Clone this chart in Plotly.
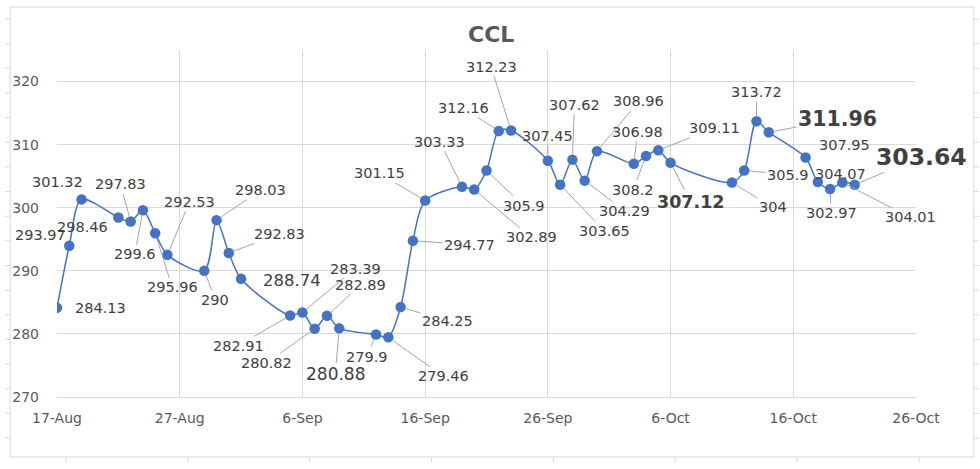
import plotly.graph_objects as go

# ---------------- data ----------------
dates = ["2022-08-17", "2022-08-18", "2022-08-19", "2022-08-22", "2022-08-23", "2022-08-24",
         "2022-08-25", "2022-08-26", "2022-08-29", "2022-08-30", "2022-08-31", "2022-09-01",
         "2022-09-05", "2022-09-06", "2022-09-07", "2022-09-08", "2022-09-09", "2022-09-12",
         "2022-09-13", "2022-09-14", "2022-09-15", "2022-09-16", "2022-09-19", "2022-09-20",
         "2022-09-21", "2022-09-22", "2022-09-23", "2022-09-26", "2022-09-27", "2022-09-28",
         "2022-09-29", "2022-09-30", "2022-10-03", "2022-10-04", "2022-10-05", "2022-10-06",
         "2022-10-11", "2022-10-12", "2022-10-13", "2022-10-14", "2022-10-17", "2022-10-18",
         "2022-10-19", "2022-10-20", "2022-10-21"]
ccl = [284.13, 293.97, 301.32, 298.46, 297.83, 299.6,
       295.96, 292.53, 290, 298.03, 292.83, 288.74,
       282.91, 283.39, 280.82, 282.89, 280.88, 279.9,
       279.46, 284.25, 294.77, 301.15, 303.33, 302.89,
       305.9, 312.16, 312.23, 307.45, 303.65, 307.62,
       304.29, 308.96, 306.98, 308.2, 309.11, 307.12,
       304, 305.9, 313.72, 311.96, 307.95, 304.07,
       302.97, 304.01, 303.64]
y_ticks = [270, 280, 290, 300, 310, 320]
title = "CCL"

# ---------------- label layout (pixel offsets, leader flag, size, bold) ----------------
S = 14.5
label_layout = [
    (43, 0, False, S, False), (-29, -11, False, S, False), (-24, -17, False, S, False),
    (-36, 10, False, S, False), (-10, -37, True, S, False), (-8, 44, True, S, False),
    (17, 54, True, S, False), (22, -53, True, S, False), (11, 29, True, S, False),
    (44, -30, True, S, False), (51, -19, True, S, False), (51, 2, False, 16.5, False),
    (-52, 30, True, S, False), (53, -44, True, S, False), (-48, 34, True, S, False),
    (34, -31, True, S, False), (-4, 46, True, 17, False), (-9, 22, True, S, False),
    (55, 39, True, S, False), (47, 14, True, S, False), (57, 4, True, S, False),
    (-46, -27, True, S, False), (-22, -45, True, S, False), (57, 48, True, S, False),
    (37, 35, True, S, False), (-35, -23, True, S, False), (-20, -64, True, S, False),
    (0, -25, True, S, False), (44, 46, True, S, False), (2, -55, True, S, False),
    (40, 30, True, S, False), (42, -50, True, S, False), (4, -32, True, S, False),
    (-13, 34, True, S, False), (56, -22, True, S, False), (20, 39, True, 17.5, True),
    (41, 25, True, S, False), (44, 4, True, S, False), (0, -29, True, S, False),
    (69, -13, True, 20.5, True), (39, -13, False, S, False), (23, -8, False, S, False),
    (1, 24, True, S, False), (68, 35, True, S, False), (67, -28, True, 23.5, True),
]

FONT = "DejaVu Sans"
LINE_BLUE = "#4472C4"
GRID = "#d9d9d9"

L, R, T, B = 54, 916, 50, 397
W, H = R - L, B - T


def px(x):
    return (x - L) / W


def py(y):
    return (B - y) / H


fig = go.Figure()
fig.add_trace(go.Scatter(
    x=dates, y=ccl, mode="lines+markers",
    line=dict(color=LINE_BLUE, width=1.5, shape="spline", smoothing=0.8),
    marker=dict(color=LINE_BLUE, size=10.5),
    showlegend=False, hoverinfo="x+y",
))

annotations = []
for d, v, (dx, dy, leader, size, bold) in zip(dates, ccl, label_layout):
    txt = f"{v:g}"
    if bold:
        txt = f"<b>{txt}</b>"
    font = dict(family=FONT, size=size, color="#404040")
    if leader:
        annotations.append(dict(x=d, y=v, xref="x", yref="y", text=txt, font=font,
                                showarrow=True, ax=dx, ay=dy, axref="pixel", ayref="pixel",
                                arrowhead=0, arrowwidth=1, arrowcolor="#a6a6a6",
                                standoff=5, borderpad=1))
    else:
        annotations.append(dict(x=d, y=v, xref="x", yref="y", text=txt, font=font,
                                showarrow=False, xshift=dx, yshift=-dy))

annotations.append(dict(text=f"<b>{title}</b>", x=px(490), y=py(35),
                        xref="paper", yref="paper", xanchor="center", yanchor="middle",
                        showarrow=False, font=dict(family=FONT, size=22, color="#595959")))

# ---------------- outer frame decoration ----------------
shapes = [dict(type="rect", xref="paper", yref="paper", x0=px(7), x1=px(974), y0=py(457), y1=py(7),
               line=dict(color=GRID, width=1), layer="below")]
for k in range(18):
    yy = 19 + 24.65 * k
    shapes.append(dict(type="line", xref="paper", yref="paper", x0=px(2), x1=px(7), y0=py(yy), y1=py(yy),
                       line=dict(color=GRID, width=1)))
    shapes.append(dict(type="line", xref="paper", yref="paper", x0=px(974), x1=px(979), y0=py(yy), y1=py(yy),
                       line=dict(color=GRID, width=1)))
for k in range(8):
    xx = 63 + 122.3 * k
    shapes.append(dict(type="line", xref="paper", yref="paper", x0=px(xx), x1=px(xx), y0=py(457), y1=py(462),
                       line=dict(color=GRID, width=1)))

fig.update_layout(
    width=980, height=469,
    margin=dict(l=L, r=980 - R, t=T, b=469 - B, pad=0),
    paper_bgcolor="white", plot_bgcolor="white",
    font=dict(family=FONT, color="#595959", size=14),
    annotations=annotations,
    shapes=shapes,
    xaxis=dict(
        type="date", range=["2022-08-17", "2022-10-26"],
        tickmode="linear", tick0="2022-08-17", dtick=864000000,
        tickformat="%-d-%b", showgrid=True, gridcolor=GRID, gridwidth=1,
        showline=True, linecolor=GRID, linewidth=1, ticks="",
        tickfont=dict(family=FONT, size=14, color="#595959"),
        ticklabelstandoff=8, zeroline=False,
    ),
    yaxis=dict(
        range=[270, 325], tickmode="array", tickvals=y_ticks,
        ticktext=[str(t) for t in y_ticks],
        showgrid=True, gridcolor=GRID, gridwidth=1, showline=False, ticks="",
        tickfont=dict(family=FONT, size=14, color="#595959"),
        ticklabelstandoff=17, zeroline=False,
    ),
)

fig.write_html("out.html")
